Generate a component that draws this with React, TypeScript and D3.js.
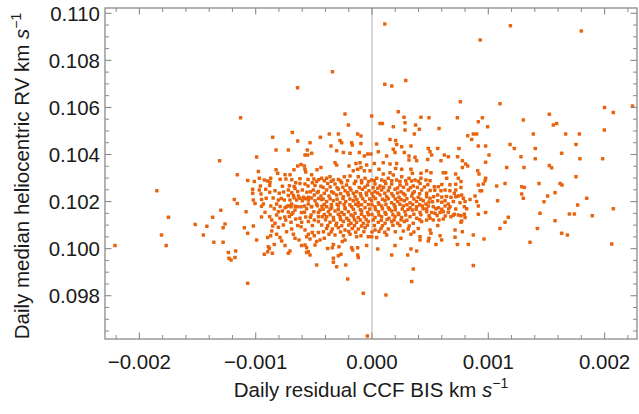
import React from "react";
import * as d3 from "d3";

// Daily residual CCF BIS (m/s) vs daily median heliocentric RV (m/s); plotted in km/s
const obs: [number, number][] = [
  // sparse top
  [-0.34,107.52],[-0.64,106.84],[0.11,109.55],[1.19,109.47],[1.80,109.25],[0.93,108.87],[0.11,106.98],[0.17,106.91],[0.29,107.14],[0.76,106.24],[1.10,106.16],[2.00,106.00],[2.24,106.06],
  // far left
  [-1.85,102.46],[-1.75,101.33],[-1.81,100.58],[-1.77,100.13],[-2.21,100.13],[-1.52,101.03],[-1.45,100.58],[-1.42,100.95],[-1.37,101.33],[-1.36,100.27],[-1.31,103.74],[-1.30,101.63],[-1.28,100.27],[-1.28,100.89],
  // upper left cloud
  [-1.13,105.56],[-0.685,104.94],[-0.854,104.73],[-0.444,104.73],[-0.639,104.57],[-0.533,104.50],[-0.825,104.19],[-0.719,104.19],[-0.556,104.19],[-0.519,104.05],[-0.576,103.98],[-0.553,103.98],[-0.992,103.89],[-0.610,103.58],[-0.639,103.51],[-0.582,103.51],[-0.825,103.35],[-0.671,103.35],[-0.576,103.37],[-0.473,103.35],[-0.439,103.45],[-0.570,103.26],[-0.977,103.28],[-0.811,103.20],[-1.158,103.14],[-0.748,103.14],[-0.705,103.14],[-0.519,103.14],[-0.433,102.99],[-1.069,102.90],[-1.012,102.85],[-0.969,102.99],[-0.926,102.92],[-0.897,102.87],[-0.871,102.99],[-0.877,102.82],[-0.656,102.80],[-0.619,102.77],[-0.576,102.75],[-0.513,102.80],[-0.476,102.85],[-1.026,102.52],[-0.969,102.49],[-0.914,102.52],[-0.834,102.46],[-0.797,102.35],[-0.719,102.49],[-0.662,102.56],[-0.639,102.43],[-0.599,102.49],[-0.504,102.49],[-0.461,102.43],[-1.026,102.35],[-0.954,102.32],[-0.719,102.26],[-0.676,102.26],[-0.633,102.24],[-0.588,102.18],[-0.547,102.18],[-0.496,102.28],[-0.439,102.24],[-1.184,102.09],[-1.020,102.07],[-0.949,102.09],[-0.805,102.07],[-0.754,102.07],[-0.705,102.07],[-0.648,102.07],[-0.599,102.04],[-0.547,102.07],[-0.490,102.04],[-0.433,102.09],[-1.158,101.92],[-1.006,101.92],[-0.934,101.90],[-0.820,101.90],[-0.691,101.90],[-0.547,101.90],[-0.476,101.90],
  [-0.79,102.95],[-0.74,102.96],[-0.69,102.93],[-0.62,102.97],[-0.55,102.94],[-0.50,102.96],[-0.46,102.93],
  [-0.96,102.66],[-0.88,102.68],[-0.77,102.65],[-0.71,102.67],[-0.67,102.64],[-0.55,102.66],[-0.49,102.68],[-0.44,102.65],
  [-0.88,102.40],[-0.76,102.41],[-0.69,102.38],[-0.56,102.40],[-0.53,102.42],[-0.47,102.39],
  [-0.91,102.14],[-0.85,102.15],[-0.78,102.13],[-0.67,102.16],[-0.62,102.14],[-0.57,102.12],[-0.52,102.15],[-0.46,102.13],
  [-0.95,101.80],[-0.87,101.81],[-0.79,101.79],[-0.72,101.82],[-0.66,101.80],[-0.58,101.81],[-0.52,101.79],[-0.47,101.82],[-0.43,101.80],
  [-0.92,101.55],[-0.72,101.56],[-0.68,101.53],[-0.58,101.55],[-0.50,101.57],[-0.46,101.54],
  [-0.95,101.35],[-0.88,101.36],[-0.75,101.34],[-0.71,101.37],[-0.57,101.35],[-0.53,101.33],[-0.46,101.36],
  // upper centre
  [-0.232,105.72],[-0.003,105.64],[0.226,105.82],[0.275,105.58],[-0.203,105.25],[0.069,105.32],[0.089,105.32],[0.183,105.18],[0.284,105.35],[0.375,105.25],[0.421,105.58],[-0.367,104.87],[-0.289,104.87],[-0.123,104.87],[-0.095,104.79],[0.284,105.04],[0.364,104.87],[0.407,105.07],[-0.353,104.36],[-0.275,104.59],[-0.261,104.50],[-0.175,104.50],[-0.169,104.40],[-0.095,104.47],[0.040,104.45],[0.155,104.64],[0.203,104.59],[0.212,104.43],[0.255,104.33],[0.335,104.36],[-0.304,104.16],[-0.246,104.08],[-0.189,104.05],[-0.109,104.08],[-0.066,103.94],[-0.037,104.02],[-0.009,104.02],[0.054,104.12],[0.126,103.94],[0.183,104.22],[0.198,104.08],[0.278,104.08],[0.318,103.94],[0.318,103.77],[0.370,103.88],[0.384,103.74],[-0.318,103.65],[-0.304,103.55],[-0.198,103.51],[-0.138,103.62],[-0.103,103.65],[-0.095,103.45],[-0.046,103.55],[0.020,103.62],[0.097,103.65],[0.155,103.60],[0.212,103.62],[0.203,103.41],[0.255,103.37],[0.335,103.37],[0.347,103.20],[0.421,103.20],[-0.161,103.31],[-0.123,103.37],[-0.066,103.31],[-0.017,103.31],[0.060,103.37],[0.097,103.17],[0.155,103.23],[0.183,103.13],
  [-0.390,102.99],[-0.361,103.06],[-0.332,102.92],[-0.289,102.94],[-0.238,103.06],[-0.189,103.09],[-0.118,103.06],[-0.060,102.99],[-0.003,102.92],[0.040,102.99],[0.083,102.92],[0.140,102.99],[0.212,102.92],[0.255,103.06],[0.318,102.99],[0.370,102.92],[0.421,102.99],
  [-0.41,102.88],[-0.35,102.86],[-0.27,102.87],[-0.21,102.89],[-0.14,102.86],[-0.09,102.88],[-0.03,102.85],[0.02,102.88],[0.11,102.86],[0.17,102.89],[0.24,102.85],[0.29,102.88],[0.34,102.87],[0.40,102.86],
  [-0.381,102.77],[-0.318,102.75],[-0.261,102.80],[-0.218,102.70],[-0.152,102.77],[-0.089,102.80],[-0.037,102.70],[0.026,102.75],[0.069,102.66],[0.118,102.77],[0.169,102.75],[0.241,102.70],[0.298,102.75],[0.355,102.66],[0.413,102.77],
  [-0.42,102.60],[-0.36,102.62],[-0.30,102.59],[-0.25,102.61],[-0.19,102.58],[-0.11,102.60],[-0.06,102.62],[0.01,102.59],[0.05,102.57],[0.10,102.61],[0.15,102.60],[0.22,102.58],[0.27,102.61],[0.33,102.59],[0.39,102.60],[0.45,102.62],
  [-0.390,102.49],[-0.347,102.42],[-0.289,102.52],[-0.232,102.46],[-0.181,102.49],[-0.132,102.42],[-0.083,102.52],[-0.026,102.46],[0.026,102.42],[0.083,102.49],[0.140,102.46],[0.198,102.52],[0.249,102.42],[0.312,102.49],[0.364,102.42],[0.427,102.49],
  [-0.41,102.35],[-0.33,102.36],[-0.27,102.34],[-0.21,102.37],[-0.16,102.35],[-0.10,102.33],[-0.05,102.36],[0.00,102.34],[0.05,102.36],[0.11,102.35],[0.17,102.33],[0.22,102.36],[0.27,102.34],[0.35,102.35],[0.41,102.33],
  [-0.370,102.24],[-0.304,102.28],[-0.246,102.21],[-0.203,102.28],[-0.146,102.21],[-0.095,102.24],[-0.046,102.28],[0.011,102.21],[0.069,102.28],[0.126,102.21],[0.183,102.24],[0.232,102.18],[0.284,102.28],[0.341,102.24],[0.398,102.18],
  [-0.42,102.11],[-0.36,102.12],[-0.30,102.10],[-0.25,102.13],[-0.19,102.11],[-0.13,102.09],[-0.08,102.12],[-0.02,102.11],[0.03,102.13],[0.09,102.10],[0.14,102.12],[0.20,102.11],[0.25,102.09],[0.30,102.12],[0.36,102.11],[0.42,102.10],
  [-0.390,102.00],[-0.332,102.04],[-0.275,101.95],[-0.226,102.00],[-0.161,102.04],[-0.118,101.95],[-0.060,102.00],[-0.003,102.04],[0.054,101.95],[0.112,102.04],[0.169,101.95],[0.221,102.00],[0.278,102.04],[0.327,101.95],[0.384,102.00],[0.441,102.04],
  [-0.41,101.88],[-0.35,101.87],[-0.30,101.89],[-0.24,101.88],[-0.19,101.86],[-0.14,101.89],[-0.09,101.87],[-0.03,101.88],[0.00,101.86],[0.06,101.89],[0.12,101.88],[0.19,101.86],[0.24,101.89],[0.30,101.87],[0.35,101.88],[0.41,101.86],
  // upper right of cloud
  [0.490,105.56],[0.734,105.56],[0.914,105.39],[0.949,105.56],[0.994,105.18],[0.576,105.11],[0.823,104.80],[0.857,104.64],[0.871,104.87],[0.900,104.87],[1.301,105.47],[0.914,104.36],[0.977,104.36],[1.187,104.43],[1.224,104.26],[0.484,104.26],[0.499,104.12],[0.565,104.26],[0.748,104.26],[0.479,103.79],[0.513,103.98],[0.622,103.98],[0.656,103.91],[0.593,103.74],[0.736,103.91],[0.777,103.74],[1.006,103.98],[0.977,103.67],[0.805,103.60],[0.823,103.51],[0.777,103.45],[1.281,103.91],[1.158,103.45],[1.307,103.45],[0.909,103.31],[0.920,103.17],[0.470,103.31],[0.507,103.23],[0.613,103.23],[0.633,103.23],[0.719,103.17],[0.642,102.99],[0.742,102.99],[0.765,102.85],[0.977,102.99],[0.972,102.89],[0.957,102.75],[0.914,102.70],[0.499,102.89],[0.464,102.92],[0.536,102.63],[0.570,102.63],[0.593,102.46],[0.628,102.49],[0.765,102.60],[0.929,102.46],[0.943,102.46],[1.144,102.77],[1.072,102.66],[1.287,102.63],[1.310,102.60],[0.470,102.35],[0.499,102.14],[0.565,102.28],[0.565,102.04],[0.628,102.04],[0.679,102.18],[0.708,102.35],[0.742,102.24],[0.771,102.28],[0.785,102.14],[0.843,102.09],[0.886,102.24],[0.900,102.00],[0.757,101.95],[0.800,102.00],[1.080,102.04],[1.287,102.32],[1.301,102.14],[0.464,101.90],[0.656,101.90],
  [0.48,102.72],[0.60,102.73],[0.67,102.71],[0.72,102.74],
  [0.50,102.47],[0.54,102.48],[0.67,102.46],[0.72,102.49],
  [0.47,102.20],[0.53,102.21],[0.60,102.19],[0.64,102.22],[0.72,102.20],
  [0.49,101.98],[0.52,101.99],[0.60,101.97],[0.70,102.00],
  // lower left of cloud
  [-1.083,101.57],[-1.264,101.05],[-1.098,100.89],[-1.020,100.96],[-1.069,100.65],[-0.992,100.37],[-0.854,100.96],[-0.805,100.91],[-0.862,100.75],[-0.871,100.55],[-0.897,100.47],[-0.820,100.61],[-0.791,100.47],[-0.777,100.33],[-0.840,100.18],[-0.891,100.08],[-0.883,100.01],[-0.897,99.87],[-0.926,99.76],[-0.857,99.80],[-0.748,100.13],[-0.734,100.72],[-0.691,100.84],[-0.676,100.61],[-0.662,100.44],[-0.628,100.37],[-0.639,100.98],[-0.610,100.93],[-0.576,100.79],[-0.562,100.51],[-0.547,100.61],[-0.513,100.69],[-0.496,100.55],[-0.476,100.30],[-0.533,100.41],[-0.576,100.16],[-0.605,100.13],[-0.562,100.04],[-0.547,99.87],[-0.533,99.73],[-0.562,99.84],[-0.705,99.90],[-0.719,99.80],[-1.235,99.84],[-1.172,99.90],[-1.178,99.62],[-1.230,99.59],[-1.212,99.52],[-0.476,99.31],[-1.069,98.53],
  [-0.840,101.69],[-0.805,101.57],[-0.771,101.60],[-0.748,101.74],[-0.820,101.43],[-0.791,101.29],[-0.742,101.22],[-0.691,101.46],[-0.662,101.64],[-0.639,101.78],[-0.619,101.29],[-0.656,101.26],[-0.605,101.54],[-0.562,101.69],[-0.524,101.43],[-0.496,101.22],[-0.447,101.64],[-0.427,101.36],[-0.461,101.15],[-0.513,100.98],[-0.433,101.01],[-0.418,100.72],[-0.461,100.69],[-0.410,100.44],[-0.447,100.37],[-0.490,100.16],[-0.734,101.78],[-0.696,101.78],[-0.610,101.78],[-0.519,101.78],[-0.862,101.22],[-0.834,101.08],[-0.762,101.01],[-0.696,101.12],[-0.605,101.12],[-0.547,101.15],
  // lower centre
  [-0.390,101.78],[-0.347,101.74],[-0.289,101.81],[-0.232,101.74],[-0.175,101.78],[-0.118,101.81],[-0.060,101.74],[0.026,101.78],[0.083,101.81],[0.140,101.74],[0.198,101.78],[0.269,101.81],[0.327,101.74],[0.384,101.78],[0.433,101.81],
  [-0.42,101.67],[-0.36,101.68],[-0.29,101.66],[-0.23,101.69],[-0.16,101.67],[-0.10,101.65],[-0.02,101.68],[0.03,101.66],[0.09,101.69],[0.15,101.67],[0.20,101.65],[0.26,101.68],[0.31,101.66],[0.38,101.67],[0.44,101.69],
  [-0.375,101.57],[-0.318,101.60],[-0.261,101.54],[-0.203,101.57],[-0.146,101.50],[-0.089,101.60],[-0.037,101.54],[0.054,101.57],[0.112,101.54],[0.169,101.60],[0.226,101.50],[0.284,101.57],[0.347,101.64],[0.413,101.54],
  [-0.41,101.45],[-0.36,101.44],[-0.29,101.46],[-0.24,101.45],[-0.18,101.43],[-0.09,101.46],[-0.03,101.44],[0.00,101.45],[0.06,101.43],[0.12,101.46],[0.18,101.44],[0.23,101.45],[0.29,101.43],[0.36,101.46],[0.42,101.44],
  [-0.390,101.36],[-0.332,101.32],[-0.275,101.36],[-0.218,101.29],[-0.161,101.36],[-0.118,101.32],[-0.066,101.36],[0.026,101.32],[0.083,101.36],[0.146,101.29],[0.198,101.36],[0.255,101.32],[0.327,101.36],[0.384,101.29],
  [-0.40,101.23],[-0.33,101.22],[-0.27,101.24],[-0.20,101.21],[-0.15,101.23],[-0.10,101.22],[-0.05,101.24],[0.01,101.22],[0.08,101.21],[0.13,101.24],[0.19,101.22],[0.25,101.23],[0.30,101.21],[0.41,101.23],
  [-0.361,101.12],[-0.304,101.08],[-0.246,101.15],[-0.181,101.08],[-0.132,101.12],[-0.075,101.08],[-0.032,101.15],[0.054,101.12],[0.112,101.08],[0.169,101.15],[0.221,101.08],[0.278,101.15],[0.355,101.08],[0.427,101.15],
  [-0.38,100.98],[-0.31,100.99],[-0.26,100.97],[-0.20,101.00],[-0.15,100.98],[-0.09,100.96],[-0.04,100.99],[0.02,100.98],[0.09,100.97],[0.18,100.99],[0.24,100.98],[0.32,100.96],
  [-0.390,100.86],[-0.341,100.84],[-0.289,100.89],[-0.232,100.79],[-0.169,100.86],[-0.118,100.84],[-0.060,100.89],[0.026,100.79],[0.077,100.86],[0.140,100.84],[0.269,100.75],[0.312,100.84],[0.398,100.86],
  [-0.35,100.72],[-0.27,100.71],[-0.20,100.73],[-0.14,100.70],[-0.07,100.72],[0.00,100.71],[0.06,100.73],[0.11,100.70],[0.20,100.72],[0.36,100.71],
  [-0.370,100.61],[-0.318,100.58],[-0.246,100.55],[-0.189,100.61],[-0.132,100.51],[-0.095,100.55],[-0.032,100.51],[-0.003,100.51],[0.040,100.47],[0.126,100.58],[0.249,100.44],[0.335,100.61],[0.413,100.51],
  [-0.381,100.01],[-0.332,100.18],[-0.341,100.04],[-0.284,100.08],[-0.255,100.30],[-0.232,100.37],[-0.175,100.04],[-0.166,99.94],[-0.123,100.04],[-0.046,100.13],[0.049,99.99],[0.198,100.13],[0.169,99.73],[0.307,99.73],[0.335,99.99],[0.384,99.90],[0.413,100.37],[-0.267,99.76],[-0.289,99.70],[-0.332,99.59],[-0.332,99.42],[-0.304,99.23],[-0.226,99.31],[-0.118,99.62],[-0.123,99.73],[0.355,99.14],[-0.209,98.71],[0.341,98.60],[-0.075,98.10],[0.120,98.03],[-0.04,96.29],
  // lower right of cloud
  [0.484,101.81],[0.527,101.78],[0.570,101.74],[0.628,101.81],[0.671,101.78],[0.794,101.78],[0.814,101.69],[0.914,101.81],[0.470,101.57],[0.513,101.54],[0.542,101.50],[0.585,101.54],[0.613,101.57],[0.656,101.54],[0.708,101.46],[0.742,101.43],[0.765,101.40],[0.794,101.46],[0.800,101.32],[0.914,101.46],[0.977,101.54],[0.470,101.22],[0.499,101.29],[0.527,101.22],[0.576,101.22],[0.613,101.26],[0.679,101.36],[0.771,101.18],[0.765,101.12],[0.565,100.98],[0.499,100.79],[0.507,100.65],[0.490,100.44],[0.484,100.33],[0.585,100.55],[0.599,100.37],[0.714,100.79],[0.714,100.48],[0.777,100.72],[0.871,100.58],[0.963,100.41],[0.550,100.18],[0.734,100.18],[0.828,100.18],[1.100,100.86],[1.144,101.12],[1.172,101.33],[0.871,99.28],
  [0.47,101.68],[0.55,101.69],[0.60,101.67],[0.66,101.70],[0.72,101.68],
  [0.49,101.40],[0.56,101.41],[0.63,101.39],[0.70,101.42],
  // far right
  [1.387,104.87],[1.404,104.26],[1.404,103.82],[1.525,105.71],[1.559,105.25],[1.588,105.32],[1.665,104.87],[1.783,104.87],[1.631,104.05],[1.754,104.43],[1.788,103.82],[1.983,103.82],[1.998,105.04],[2.075,105.78],[1.525,103.53],[1.545,103.44],[1.754,103.06],
  [1.436,102.77],[1.479,101.99],[1.510,102.24],[1.574,102.38],[1.617,102.77],[1.634,102.70],[1.445,101.50],[1.574,101.19],[1.631,100.65],[1.680,100.58],[1.697,101.47],[1.740,101.47],[1.768,101.85],[1.846,102.14],[1.894,101.40],[2.075,101.70],[2.061,100.20],[1.359,100.27],[1.422,100.86],
];

const xMajor = [-0.002, -0.001, 0, 0.001, 0.002];
const xLabels = ["\u22120.002", "\u22120.001", "0.000", "0.001", "0.002"];
const yMajor = [0.098, 0.1, 0.102, 0.104, 0.106, 0.108, 0.11];
const yLabels = ["0.098", "0.100", "0.102", "0.104", "0.106", "0.108", "0.110"];

const W = 639, H = 414;
const FL = 105, FR = 637, FT = 8, FB = 339;

export default function App() {
  const x = d3.scaleLinear().domain([-0.0022958, 0.0022786]).range([FL, FR]);
  const y = d3.scaleLinear().domain([0.096161, 0.110225]).range([FB, FT]);
  const xMinor = d3.range(-22, 23, 2).map((v) => v * 0.0001).filter((v) => !xMajor.some((m) => Math.abs(m - v) < 1e-9));
  const yMinor = d3.range(193, 221).map((v) => v * 0.0005).filter((v) => !yMajor.some((m) => Math.abs(m - v) < 1e-9) && v >= 0.0962 && v <= 0.1102);
  const font = "'Liberation Sans', Arial, Helvetica, sans-serif";
  const frameCol = "#8a8a8a";
  const ptCol = "#e8640e";
  const fs = 20.5;
  const sz = 3.5;
  return (
    <svg width={W} height={H} style={{ position: "absolute", left: 0, top: 0, background: "#fff" }} fontFamily={font}>
      <line x1={x(0)} x2={x(0)} y1={FT} y2={FB} stroke="#c4c4c4" strokeWidth={1.3} />
      {obs.map(([b, r], i) => (
        <rect key={i} x={x(b / 1000) - sz / 2} y={y(r / 1000) - sz / 2} width={sz} height={sz} rx={0.7} fill={ptCol} />
      ))}
      <rect x={FL} y={FT} width={FR - FL} height={FB - FT} fill="none" stroke={frameCol} strokeWidth={1.3} />
      {xMajor.map((v) => (
        <g key={"xm" + v}>
          <line x1={x(v)} x2={x(v)} y1={FB} y2={FB - 6.5} stroke={frameCol} strokeWidth={1.1} />
          <line x1={x(v)} x2={x(v)} y1={FT} y2={FT + 6.5} stroke={frameCol} strokeWidth={1.1} />
        </g>
      ))}
      {xMinor.map((v) => (
        <g key={"xn" + v}>
          <line x1={x(v)} x2={x(v)} y1={FB} y2={FB - 4} stroke={frameCol} strokeWidth={1} />
          <line x1={x(v)} x2={x(v)} y1={FT} y2={FT + 4} stroke={frameCol} strokeWidth={1} />
        </g>
      ))}
      {yMajor.map((v) => (
        <g key={"ym" + v}>
          <line x1={FL} x2={FL + 6.5} y1={y(v)} y2={y(v)} stroke={frameCol} strokeWidth={1.1} />
          <line x1={FR} x2={FR - 6.5} y1={y(v)} y2={y(v)} stroke={frameCol} strokeWidth={1.1} />
        </g>
      ))}
      {yMinor.map((v) => (
        <g key={"yn" + v}>
          <line x1={FL} x2={FL + 4} y1={y(v)} y2={y(v)} stroke={frameCol} strokeWidth={1} />
          <line x1={FR} x2={FR - 4} y1={y(v)} y2={y(v)} stroke={frameCol} strokeWidth={1} />
        </g>
      ))}
      {xMajor.map((v, i) => (
        <text key={"xl" + v} x={x(v)} y={368.5} fontSize={fs} textAnchor="middle" fill="#1a1a1a">{xLabels[i]}</text>
      ))}
      {yMajor.map((v, i) => (
        <text key={"yl" + v} x={100} y={y(v) + 7.4} fontSize={fs} textAnchor="end" fill="#1a1a1a">{yLabels[i]}</text>
      ))}
      <text x={(FL + FR) / 2} y={396.5} fontSize={fs} textAnchor="middle" fill="#1a1a1a">
        Daily residual CCF BIS km <tspan fontStyle="italic">s</tspan>
        <tspan fontSize={14} dy={-8.5}>{"\u22121"}</tspan>
      </text>
      <text transform={`translate(29,176) rotate(-90)`} fontSize={fs} textAnchor="middle" fill="#1a1a1a">
        Daily median heliocentric RV km <tspan fontStyle="italic">s</tspan>
        <tspan fontSize={14} dy={-8.5}>{"\u22121"}</tspan>
      </text>
    </svg>
  );
}
